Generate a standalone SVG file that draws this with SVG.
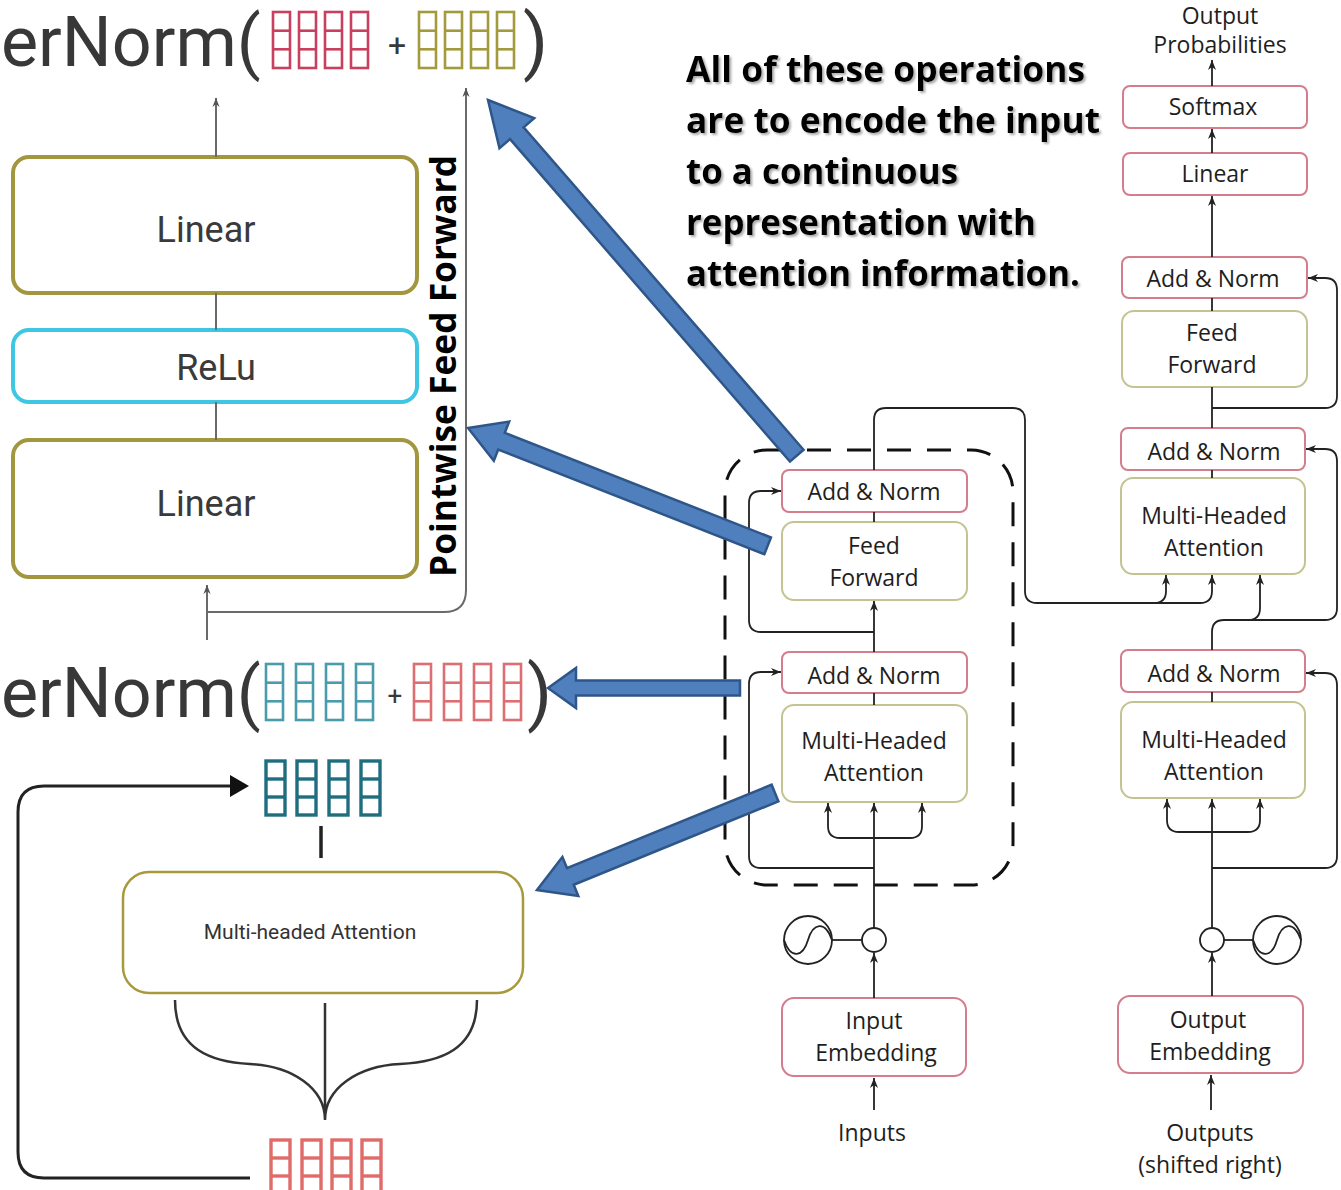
<svg xmlns="http://www.w3.org/2000/svg" xmlns:xlink="http://www.w3.org/1999/xlink" width="1341" height="1190" viewBox="0 0 1341 1190">
  <defs>
    <style>
      .big { font-family: Roboto, "Liberation Sans", sans-serif; fill: #383838; }
      .lbl { font-family: Roboto, "Liberation Sans", sans-serif; fill: #3a3a3a; font-size: 36px; text-anchor: middle; }
      .tl { font-family: "Open Sans", "Noto Sans", sans-serif; fill: #1e1e1e; font-size: 23px; text-anchor: middle; }
      .bold { font-family: "Open Sans", "Noto Sans", sans-serif; font-weight: 700; fill: #000; font-size: 36px; }
      .ffbox { fill: #fff; stroke: #a2963e; stroke-width: 4; }
      .relu { fill: #fff; stroke: #3fc6e2; stroke-width: 4; }
      .gline { fill: none; stroke: #6a6a6a; stroke-width: 2; }
      .red { fill: #fff; stroke: #d47d8c; stroke-width: 2; }
      .olv { fill: #fff; stroke: #c4c493; stroke-width: 2; }
      .wire { fill: none; stroke: #222; stroke-width: 1.8; }
      .wa { fill: none; stroke: #222; stroke-width: 1.8; marker-end: url(#ah); }
      .blk { fill: #4f7fbd; stroke: #2f5689; stroke-width: 2.5; stroke-linejoin: miter; }
    </style>
    <marker id="ah" viewBox="0 0 10 10" refX="10" refY="5" markerWidth="10" markerHeight="10" markerUnits="userSpaceOnUse" orient="auto">
      <path d="M0,1 L10,5 L0,9 L3,5 z" fill="#222"/>
    </marker>
    <marker id="ahg" viewBox="0 0 10 10" refX="10" refY="5" markerWidth="9" markerHeight="9" markerUnits="userSpaceOnUse" orient="auto">
      <path d="M0,1 L10,5 L0,9 L3,5 z" fill="#555"/>
    </marker>
    <!-- one vector column: three stacked cells -->
    <g id="colA" fill="none" stroke="currentColor" stroke-width="2.6">
      <rect x="0" y="0" width="17" height="56"/>
      <line x1="0" y1="18.7" x2="17" y2="18.7"/>
      <line x1="0" y1="37.3" x2="17" y2="37.3"/>
    </g>
    <g id="colB" fill="none" stroke="currentColor" stroke-width="3.4">
      <rect x="0" y="0" width="19" height="54"/>
      <line x1="0" y1="18" x2="19" y2="18"/>
      <line x1="0" y1="36" x2="19" y2="36"/>
    </g>
    <!-- positional encoding glyph -->
    <g id="sine" fill="none" stroke="#222" stroke-width="1.8">
      <circle cx="0" cy="0" r="24"/>
      <path d="M-24,0 C-17,20 -5,17 0,0 C5,-17 17,-20 24,0"/>
    </g>
    <filter id="shadow" x="-5%" y="-20%" width="110%" height="150%">
      <feDropShadow dx="2" dy="2" stdDeviation="1" flood-color="#777" flood-opacity="0.6"/>
    </filter>
  </defs>

  <rect x="0" y="0" width="1341" height="1190" fill="#fff"/>

  <!-- top LayerNorm expression -->
  <g id="layernorm-top">
    <text class="big" x="1" y="66" font-size="70">erNorm(</text>
    <use xlink:href="#colA" x="273" y="12" style="color:#c8405e"/>
    <use xlink:href="#colA" x="299" y="12" style="color:#c8405e"/>
    <use xlink:href="#colA" x="325" y="12" style="color:#c8405e"/>
    <use xlink:href="#colA" x="351" y="12" style="color:#c8405e"/>
    <text class="big" x="397" y="56" font-size="32" text-anchor="middle">+</text>
    <use xlink:href="#colA" x="419" y="12" style="color:#a39a3e"/>
    <use xlink:href="#colA" x="445" y="12" style="color:#a39a3e"/>
    <use xlink:href="#colA" x="471" y="12" style="color:#a39a3e"/>
    <use xlink:href="#colA" x="497" y="12" style="color:#a39a3e"/>
    <text class="big" x="523" y="66" font-size="72">)</text>
  </g>

  <!-- pointwise feed forward block -->
  <g id="ff-linear-top">
    <rect class="ffbox" x="13" y="157" width="404" height="136" rx="16"/>
    <text class="lbl" x="206" y="242">Linear</text>
  </g>
  <g id="ff-relu">
    <rect class="relu" x="13" y="330" width="404" height="72" rx="16"/>
    <text class="lbl" x="216" y="380">ReLu</text>
  </g>
  <g id="ff-linear-bottom">
    <rect class="ffbox" x="13" y="440" width="404" height="137" rx="16"/>
    <text class="lbl" x="206" y="516">Linear</text>
  </g>
  <g id="ff-title">
    <text class="bold" transform="translate(456,366) rotate(-90)" text-anchor="middle" textLength="422" lengthAdjust="spacingAndGlyphs">Pointwise Feed Forward</text>
  </g>

  <!-- second LayerNorm expression -->
  <g id="layernorm-mid">
    <text class="big" x="1" y="717" font-size="70">erNorm(</text>
    <use xlink:href="#colA" x="266" y="664" style="color:#4a9cac"/>
    <use xlink:href="#colA" x="296" y="664" style="color:#4a9cac"/>
    <use xlink:href="#colA" x="326" y="664" style="color:#4a9cac"/>
    <use xlink:href="#colA" x="356" y="664" style="color:#4a9cac"/>
    <text class="big" x="395" y="705" font-size="26" text-anchor="middle">+</text>
    <use xlink:href="#colA" x="414" y="664" style="color:#dd6f72"/>
    <use xlink:href="#colA" x="444" y="664" style="color:#dd6f72"/>
    <use xlink:href="#colA" x="474" y="664" style="color:#dd6f72"/>
    <use xlink:href="#colA" x="504" y="664" style="color:#dd6f72"/>
    <text class="big" x="527" y="717" font-size="72">)</text>
  </g>

  <!-- attention output vector and block -->
  <g id="attn-out">
    <use xlink:href="#colB" x="266" y="761" style="color:#1e6e80"/>
    <use xlink:href="#colB" x="297" y="761" style="color:#1e6e80"/>
    <use xlink:href="#colB" x="329" y="761" style="color:#1e6e80"/>
    <use xlink:href="#colB" x="361" y="761" style="color:#1e6e80"/>
  </g>
  <g id="attn-block">
    <rect x="123" y="872" width="400" height="121" rx="26" fill="#fff" stroke="#a89a3c" stroke-width="2.5"/>
    <text x="310" y="939" font-family="Roboto, 'Liberation Sans', sans-serif" font-size="21" fill="#333" text-anchor="middle">Multi-headed Attention</text>
  </g>
  <g id="attn-in">
    <use xlink:href="#colB" x="271" y="1140" style="color:#e06c6a"/>
    <use xlink:href="#colB" x="302" y="1140" style="color:#e06c6a"/>
    <use xlink:href="#colB" x="332" y="1140" style="color:#e06c6a"/>
    <use xlink:href="#colB" x="362" y="1140" style="color:#e06c6a"/>
  </g>

  <!-- explanatory note -->
  <g id="note" filter="url(#shadow)">
    <text class="bold" x="686" y="82" textLength="399" lengthAdjust="spacingAndGlyphs">All of these operations</text>
    <text class="bold" x="686" y="133" textLength="414" lengthAdjust="spacingAndGlyphs">are to encode the input</text>
    <text class="bold" x="686" y="184" textLength="272" lengthAdjust="spacingAndGlyphs">to a continuous</text>
    <text class="bold" x="686" y="235" textLength="350" lengthAdjust="spacingAndGlyphs">representation with</text>
    <text class="bold" x="686" y="286" textLength="394" lengthAdjust="spacingAndGlyphs">attention information.</text>
  </g>

  <!-- encoder -->
  <g id="encoder-frame">
    <rect x="725" y="450" width="288" height="435" rx="42" fill="none" stroke="#111" stroke-width="3" stroke-dasharray="24 16"/>
  </g>
  <g id="enc-addnorm2">
    <rect class="red" x="782" y="470" width="185" height="42" rx="7"/>
    <text class="tl" x="874" y="500">Add &amp; Norm</text>
  </g>
  <g id="enc-ff">
    <rect class="olv" x="782" y="522" width="185" height="78" rx="12"/>
    <text class="tl" x="874" y="554">Feed</text>
    <text class="tl" x="874" y="586">Forward</text>
  </g>
  <g id="enc-addnorm1">
    <rect class="red" x="782" y="652" width="185" height="41" rx="7"/>
    <text class="tl" x="874" y="684">Add &amp; Norm</text>
  </g>
  <g id="enc-mha">
    <rect class="olv" x="782" y="705" width="185" height="97" rx="12"/>
    <text class="tl" x="874" y="749">Multi-Headed</text>
    <text class="tl" x="874" y="781">Attention</text>
  </g>
  <g id="enc-pos">
    <use xlink:href="#sine" x="808" y="940"/>
    <circle cx="874" cy="940" r="12" fill="#fff" stroke="#222" stroke-width="1.8"/>
  </g>
  <g id="enc-embed">
    <rect class="red" x="782" y="998" width="184" height="78" rx="12"/>
    <text class="tl" x="874" y="1029">Input</text>
    <text class="tl" x="876" y="1061">Embedding</text>
  </g>
  <g id="enc-inputs">
    <text class="tl" x="872" y="1141">Inputs</text>
  </g>

  <!-- decoder -->
  <g id="dec-output-label">
    <text class="tl" x="1220" y="24">Output</text>
    <text class="tl" x="1220" y="53">Probabilities</text>
  </g>
  <g id="dec-softmax">
    <rect class="red" x="1123" y="86" width="184" height="42" rx="7"/>
    <text class="tl" x="1213" y="115">Softmax</text>
  </g>
  <g id="dec-linear">
    <rect class="red" x="1123" y="153" width="184" height="42" rx="7"/>
    <text class="tl" x="1215" y="182">Linear</text>
  </g>
  <g id="dec-addnorm3">
    <rect class="red" x="1122" y="257" width="185" height="41" rx="7"/>
    <text class="tl" x="1213" y="287">Add &amp; Norm</text>
  </g>
  <g id="dec-ff">
    <rect class="olv" x="1122" y="311" width="185" height="76" rx="12"/>
    <text class="tl" x="1212" y="341">Feed</text>
    <text class="tl" x="1212" y="373">Forward</text>
  </g>
  <g id="dec-addnorm2">
    <rect class="red" x="1121" y="428" width="184" height="42" rx="7"/>
    <text class="tl" x="1214" y="460">Add &amp; Norm</text>
  </g>
  <g id="dec-mha2">
    <rect class="olv" x="1121" y="478" width="184" height="96" rx="12"/>
    <text class="tl" x="1214" y="524">Multi-Headed</text>
    <text class="tl" x="1214" y="556">Attention</text>
  </g>
  <g id="dec-addnorm1">
    <rect class="red" x="1121" y="650" width="184" height="42" rx="7"/>
    <text class="tl" x="1214" y="682">Add &amp; Norm</text>
  </g>
  <g id="dec-mha1">
    <rect class="olv" x="1121" y="702" width="184" height="96" rx="12"/>
    <text class="tl" x="1214" y="748">Multi-Headed</text>
    <text class="tl" x="1214" y="780">Attention</text>
  </g>
  <g id="dec-pos">
    <circle cx="1212" cy="940" r="12" fill="#fff" stroke="#222" stroke-width="1.8"/>
    <use xlink:href="#sine" x="1277" y="940"/>
  </g>
  <g id="dec-embed">
    <rect class="red" x="1118" y="996" width="185" height="77" rx="12"/>
    <text class="tl" x="1208" y="1028">Output</text>
    <text class="tl" x="1210" y="1060">Embedding</text>
  </g>
  <g id="dec-outputs">
    <text class="tl" x="1210" y="1141">Outputs</text>
    <text class="tl" x="1210" y="1173">(shifted right)</text>
  </g>

  <!-- connectors -->
  <g id="connectors">
    <!-- feed forward block flow -->
    <path class="gline" d="M216,157 V98" marker-end="url(#ahg)"/>
    <path class="gline" d="M216,293 V330 M216,402 V440"/>
    <path class="gline" d="M207,640 V585" marker-end="url(#ahg)"/>
    <path class="gline" d="M207,612 H444 Q466,612 466,590 V88" marker-end="url(#ahg)"/>

    <!-- attention block flow -->
    <path d="M321,826 V858" stroke="#222" stroke-width="3.5" fill="none"/>
    <path d="M250,1178 H44 Q18,1178 18,1152 V812 Q18,786 44,786 H230" stroke="#222" stroke-width="3" fill="none"/>
    <polygon points="230,775 249,786 230,797" fill="#111"/>
    <path d="M175,1000 C175,1050 212,1062 250,1064 C292,1066 325,1088 325,1120 M477,1000 C477,1050 440,1062 400,1064 C358,1066 325,1088 325,1120 M325,1003 V1120" stroke="#333" stroke-width="2.5" fill="none"/>

    <!-- encoder wiring -->
    <path class="wa" d="M874,1110 V1078"/>
    <path class="wa" d="M874,998 V953"/>
    <path class="wire" d="M832,940 H862"/>
    <path class="wa" d="M874,928 V803"/>
    <path class="wa" d="M874,838 H840 Q828,838 828,826 V803"/>
    <path class="wa" d="M874,838 H910 Q922,838 922,826 V803"/>
    <path class="wa" d="M874,868 H761 Q749,868 749,856 V684 Q749,672 761,672 H781"/>
    <path class="wire" d="M874,705 V693"/>
    <path class="wa" d="M874,652 V601"/>
    <path class="wa" d="M874,632 H761 Q749,632 749,620 V503 Q749,491 761,491 H781"/>
    <path class="wire" d="M874,522 V512"/>
    <path class="wa" d="M874,470 V420 Q874,408 886,408 H1013 Q1025,408 1025,420 V591 Q1025,603 1037,603 H1154 Q1166,603 1166,591 V575"/>
    <path class="wa" d="M1154,603 H1200 Q1212,603 1212,591 V575"/>

    <!-- decoder wiring -->
    <path class="wa" d="M1211,1110 V1075"/>
    <path class="wa" d="M1212,996 V953"/>
    <path class="wire" d="M1224,940 H1253"/>
    <path class="wa" d="M1212,928 V799"/>
    <path class="wa" d="M1212,832 H1179 Q1167,832 1167,820 V799"/>
    <path class="wa" d="M1212,832 H1248 Q1260,832 1260,820 V799"/>
    <path class="wa" d="M1212,868 H1325 Q1337,868 1337,856 V685 Q1337,673 1325,673 H1306"/>
    <path class="wire" d="M1212,702 V692"/>
    <path class="wa" d="M1212,650 V632 Q1212,620 1224,620 H1248 Q1260,620 1260,608 V575"/>
    <path class="wa" d="M1248,620 H1325 Q1337,620 1337,608 V461 Q1337,449 1325,449 H1306"/>
    <path class="wire" d="M1212,478 V470"/>
    <path class="wire" d="M1212,428 V387"/>
    <path class="wa" d="M1212,408 H1325 Q1337,408 1337,396 V290 Q1337,278 1325,278 H1308"/>
    <path class="wire" d="M1212,311 V298"/>
    <path class="wa" d="M1212,257 V196"/>
    <path class="wa" d="M1212,153 V129"/>
    <path class="wa" d="M1212,86 V60"/>

    <!-- callout arrows -->
    <polygon class="blk" points="0,0 44,-23 44,-9 471,-9 471,9 44,9 44,23" transform="translate(488,100) rotate(49.04)"/>
    <polygon class="blk" points="0,0 36,-21 36,-9 322,-9 322,9 36,9 36,21" transform="translate(468,428) rotate(21.47)"/>
    <polygon class="blk" points="0,0 28,-20 28,-7.5 192,-7.5 192,7.5 28,7.5 28,20" transform="translate(548,688)"/>
    <polygon class="blk" points="0,0 36,-21 36,-9 257,-9 257,9 36,9 36,21" transform="translate(537,890) rotate(-22.17)"/>
  </g>
</svg>
